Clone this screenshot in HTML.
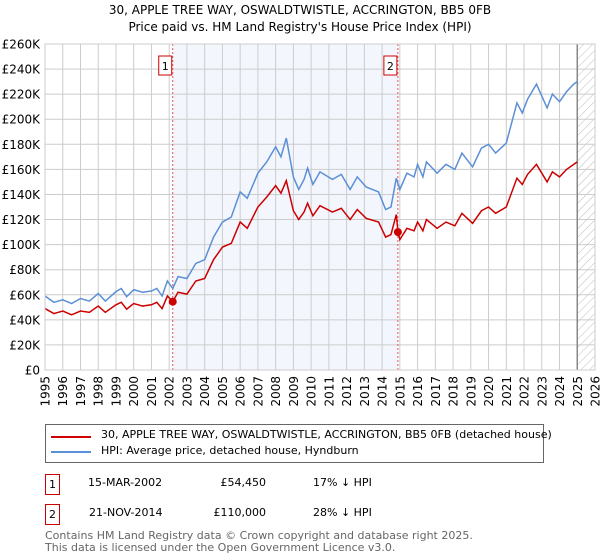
<!DOCTYPE html>
<html><head><meta charset="utf-8"><style>
body{margin:0;width:600px;height:560px;background:#fff;font-family:"DejaVu Sans","Liberation Sans",sans-serif;overflow:hidden;position:relative}
.t{position:absolute;font-size:11px;color:#000;white-space:nowrap}
</style></head><body>
<div class="t" style="left:0;width:600px;text-align:center;top:3px;font-size:12px">30, APPLE TREE WAY, OSWALDTWISTLE, ACCRINGTON, BB5 0FB</div>
<div class="t" style="left:0;width:600px;text-align:center;top:20px;font-size:12px">Price paid vs. HM Land Registry's House Price Index (HPI)</div>
<svg id="chart" width="600" height="415" style="position:absolute;left:0;top:0" font-family="DejaVu Sans, Liberation Sans, sans-serif">
<defs><pattern id="hatch" width="6" height="6" patternUnits="userSpaceOnUse" patternTransform="rotate(45)"><line x1="0" y1="0" x2="0" y2="6" stroke="#bbb" stroke-width="1"/></pattern></defs>
<g id="g"></g>
</svg>
<div style="position:absolute;left:45px;top:424px;width:497px;height:37px;border:1px solid #666"></div>
<div style="position:absolute;left:51px;top:436px;width:40px;height:2px;background:#cc0000"></div>
<div class="t" style="left:101px;top:428px">30, APPLE TREE WAY, OSWALDTWISTLE, ACCRINGTON, BB5 0FB (detached house)</div>
<div style="position:absolute;left:51px;top:451px;width:40px;height:2px;background:#5b8fd6"></div>
<div class="t" style="left:101px;top:444px">HPI: Average price, detached house, Hyndburn</div>
<div class="t" style="left:45px;top:474px;width:13px;height:19px;border:1px solid #cc0000;text-align:center;line-height:19px">1</div>
<div class="t" style="left:88px;top:476px">15-MAR-2002</div>
<div class="t" style="left:190px;width:76px;text-align:right;top:476px">£54,450</div>
<div class="t" style="left:313px;top:476px">17% ↓ HPI</div>
<div class="t" style="left:45px;top:504px;width:13px;height:19px;border:1px solid #cc0000;text-align:center;line-height:19px">2</div>
<div class="t" style="left:89px;top:506px">21-NOV-2014</div>
<div class="t" style="left:190px;width:76px;text-align:right;top:506px">£110,000</div>
<div class="t" style="left:313px;top:506px">28% ↓ HPI</div>
<div class="t" style="left:45px;top:529px;color:#666">Contains HM Land Registry data © Crown copyright and database right 2025.</div>
<div class="t" style="left:45px;top:541px;color:#666">This data is licensed under the Open Government Licence v3.0.</div>
<script>
const hpiYears=[1995.0,1995.5,1996,1996.5,1997,1997.5,1998,1998.4,1999,1999.3,1999.6,2000,2000.5,2001,2001.3,2001.6,2001.9,2002.2,2002.5,2003,2003.5,2004,2004.5,2005,2005.5,2006,2006.4,2007,2007.5,2008,2008.3,2008.6,2009,2009.3,2009.6,2009.8,2010.1,2010.5,2011.2,2011.7,2012.2,2012.6,2013.1,2013.8,2014.2,2014.5,2014.8,2015.0,2015.4,2015.8,2016.0,2016.3,2016.5,2017.1,2017.6,2018.1,2018.5,2019.1,2019.6,2020.0,2020.4,2021.0,2021.6,2021.9,2022.2,2022.7,2023.3,2023.6,2024.0,2024.4,2024.8,2025.0];
const hpiValues=[59,54,56,53,57,55,61,55,62.5,65,58.5,64,62,63,65,59,71,65,74.5,73,85,88,106,118,122,142,137,157,166,178,170,185,154,144,152,161,148,158,152,156,144,154,146,142,128,130,153,144,157,154,164,154,166,157,164,160,173,162,177,180,173,181,213,205,216,228,209,220,214,222,228,230];
const priceYears=[1995.0,1995.5,1996,1996.5,1997,1997.5,1998,1998.4,1999,1999.3,1999.6,2000,2000.5,2001,2001.3,2001.6,2001.9,2002.2,2002.5,2003,2003.5,2004,2004.5,2005,2005.5,2006,2006.4,2007,2007.5,2008,2008.3,2008.6,2009,2009.3,2009.6,2009.8,2010.1,2010.5,2011.2,2011.7,2012.2,2012.6,2013.1,2013.8,2014.2,2014.5,2014.8,2014.9,2015.0,2015.4,2015.8,2016.0,2016.3,2016.5,2017.1,2017.6,2018.1,2018.5,2019.1,2019.6,2020.0,2020.4,2021.0,2021.6,2021.9,2022.2,2022.7,2023.3,2023.6,2024.0,2024.4,2024.8,2025.0];
const priceValues=[49,45,47,44,47,46,51,46,52,54,48.5,53,51,52,54,49,59,54.5,62,60.5,71,73,88,98,101,118,113,130,138,147,141,151,127,120,126,133,123,131,126,129,120,128,121,118,106,108,124,110,104,113,111,118,111,120,113,118,115,125,117,127,130,125,130,153,148,156,164,150,158,154,160,164,166];
const saleYears=[2002.2,2014.89];
const saleValues=[54.45,110];
const saleLabels=["1","2"];
const yTicks=[0,20,40,60,80,100,120,140,160,180,200,220,240,260];
const xTicks=[1995,1996,1997,1998,1999,2000,2001,2002,2003,2004,2005,2006,2007,2008,2009,2010,2011,2012,2013,2014,2015,2016,2017,2018,2019,2020,2021,2022,2023,2024,2025,2026];
const X0=45,X1=595,Y0=370,Y1=44;
const sx=y=>X0+(y-1995)*(X1-X0)/31;
const sy=v=>Y0-v*(Y0-Y1)/260;
const g=document.getElementById('g');
const NS='http://www.w3.org/2000/svg';
function mk(t,a,p){const e=document.createElementNS(NS,t);for(const k in a)e.setAttribute(k,a[k]);(p||g).appendChild(e);return e;}
let e;
e=mk('rect',{x:sx(saleYears[0]),y:Y1,width:sx(saleYears[1])-sx(saleYears[0]),height:Y0-Y1,fill:'#eef3fc',opacity:0.7});


e=mk('rect',{x:sx(2025),y:Y1,width:X1-sx(2025),height:Y0-Y1,fill:'url(#hatch)'});


yTicks.forEach(v=>{
 e=mk('line',{x1:X0,x2:X1,y1:sy(v),y2:sy(v),stroke:'#ccc','stroke-width':1});
 
 
 e=mk('text',{x:40,y:sy(v)+4.5,'text-anchor':'end','font-size':12});
 e.textContent=v===0?'£0':'£'+v+'K';
 
 
});
xTicks.forEach(y=>{
 e=mk('line',{x1:sx(y),x2:sx(y),y1:Y1,y2:Y0,stroke:'#ccc','stroke-width':1});
 
 
 e=mk('text',{x:0,y:0,'text-anchor':'end','font-size':12,transform:`translate(${sx(y)+4.5},${Y0+6}) rotate(-90)`});
 e.textContent=y;
 
 
});
e=mk('line',{x1:sx(2025),x2:sx(2025),y1:Y1,y2:Y0,stroke:'#888','stroke-width':1.5});


saleYears.forEach((y,i)=>{
 e=mk('line',{x1:sx(y),x2:sx(y),y1:Y1,y2:Y0,stroke:'#e05555','stroke-width':1,'stroke-dasharray':'2,2'});
 
 
 e=mk('rect',{x:sx(y)-14,y:56,width:13,height:19,fill:'#fff',stroke:'#cc0000','stroke-width':1});
 
 
 e=mk('text',{x:sx(y)-7.5,y:70,'text-anchor':'middle','font-size':11});
 e.textContent=saleLabels[i];
 
 
});
e=mk('polyline',{points:hpiYears.map((y,i)=>sx(y)+','+sy(hpiValues[i])).join(' '),fill:'none',stroke:'#5b8fd6','stroke-width':1.5});


e=mk('polyline',{points:priceYears.map((y,i)=>sx(y)+','+sy(priceValues[i])).join(' '),fill:'none',stroke:'#cc0000','stroke-width':1.5});


saleYears.forEach((y,i)=>{
 e=mk('circle',{cx:sx(y),cy:sy(saleValues[i]),r:4,fill:'#cc0000'});
 
 
});
e=mk('rect',{x:X0,y:Y1,width:X1-X0,height:Y0-Y1,fill:'none',stroke:'#ccc'});


</script>
</body></html>
